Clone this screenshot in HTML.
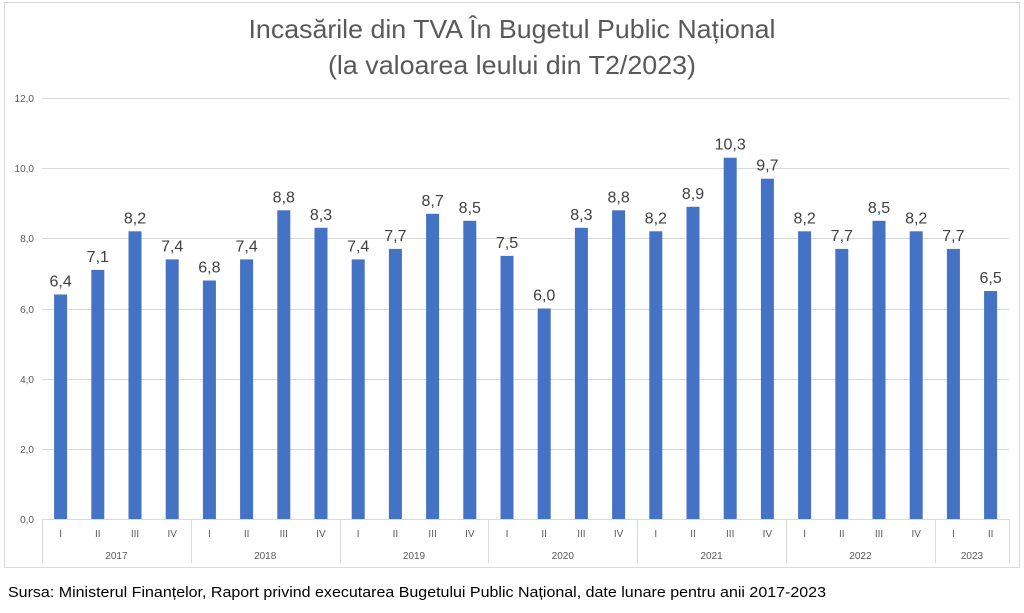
<!DOCTYPE html>
<html><head><meta charset="utf-8"><style>
body{margin:0;background:#fff;}
svg text{font-family:"Liberation Sans",sans-serif;}
</style></head><body>
<svg width="1024" height="608" viewBox="0 0 1024 608" xmlns="http://www.w3.org/2000/svg">
<rect x="4.5" y="2.5" width="1015" height="565" fill="#fff" stroke="#d9d9d9"/>
<text x="512" y="38" text-anchor="middle" font-size="26" fill="#595959" textLength="527" lengthAdjust="spacingAndGlyphs">Incasările din TVA În Bugetul Public Național</text>
<text x="512" y="74" text-anchor="middle" font-size="26" fill="#595959" textLength="368" lengthAdjust="spacingAndGlyphs">(la valoarea leului din T2/2023)</text>
<g stroke="#d9d9d9" stroke-width="1">
<line x1="42" x2="1009" y1="98.5" y2="98.5"/>
<line x1="42" x2="1009" y1="168.5" y2="168.5"/>
<line x1="42" x2="1009" y1="238.5" y2="238.5"/>
<line x1="42" x2="1009" y1="309.5" y2="309.5"/>
<line x1="42" x2="1009" y1="379.5" y2="379.5"/>
<line x1="42" x2="1009" y1="449.5" y2="449.5"/>
<line x1="42" x2="1009" y1="519.5" y2="519.5"/>
<line x1="42.5" x2="42.5" y1="519" y2="563"/>
<line x1="191.5" x2="191.5" y1="519" y2="563"/>
<line x1="340.5" x2="340.5" y1="519" y2="563"/>
<line x1="488.5" x2="488.5" y1="519" y2="563"/>
<line x1="637.5" x2="637.5" y1="519" y2="563"/>
<line x1="786.5" x2="786.5" y1="519" y2="563"/>
<line x1="935.5" x2="935.5" y1="519" y2="563"/>
<line x1="1009.5" x2="1009.5" y1="519" y2="563"/>
</g>
<g font-size="10" fill="#595959" text-anchor="end">
<text x="34" y="102">12,0</text><text x="34" y="172">10,0</text><text x="34" y="242">8,0</text>
<text x="34" y="313">6,0</text><text x="34" y="383">4,0</text><text x="34" y="453">2,0</text><text x="34" y="523">0,0</text>
</g>
<g fill="#4472c4">
<rect x="54.1" y="294.5" width="13" height="224.5"/>
<rect x="91.3" y="269.9" width="13" height="249.1"/>
<rect x="128.5" y="231.3" width="13" height="287.7"/>
<rect x="165.7" y="259.4" width="13" height="259.6"/>
<rect x="202.9" y="280.5" width="13" height="238.5"/>
<rect x="240.1" y="259.4" width="13" height="259.6"/>
<rect x="277.3" y="210.3" width="13" height="308.7"/>
<rect x="314.5" y="227.8" width="13" height="291.2"/>
<rect x="351.7" y="259.4" width="13" height="259.6"/>
<rect x="388.9" y="248.9" width="13" height="270.1"/>
<rect x="426.1" y="213.8" width="13" height="305.2"/>
<rect x="463.3" y="220.8" width="13" height="298.2"/>
<rect x="500.5" y="255.9" width="13" height="263.1"/>
<rect x="537.7" y="308.5" width="13" height="210.5"/>
<rect x="574.9" y="227.8" width="13" height="291.2"/>
<rect x="612.1" y="210.3" width="13" height="308.7"/>
<rect x="649.3" y="231.3" width="13" height="287.7"/>
<rect x="686.5" y="206.8" width="13" height="312.2"/>
<rect x="723.7" y="157.7" width="13" height="361.3"/>
<rect x="760.9" y="178.7" width="13" height="340.3"/>
<rect x="798.1" y="231.3" width="13" height="287.7"/>
<rect x="835.3" y="248.9" width="13" height="270.1"/>
<rect x="872.5" y="220.8" width="13" height="298.2"/>
<rect x="909.7" y="231.3" width="13" height="287.7"/>
<rect x="946.9" y="248.9" width="13" height="270.1"/>
<rect x="984.1" y="291.0" width="13" height="228.0"/>
</g>
<g font-size="16" fill="#404040" text-anchor="middle">
<text x="60.6" y="286.5">6,4</text>
<text x="97.8" y="261.9">7,1</text>
<text x="135" y="223.3">8,2</text>
<text x="172.2" y="251.4">7,4</text>
<text x="209.4" y="272.5">6,8</text>
<text x="246.6" y="251.4">7,4</text>
<text x="283.8" y="202.3">8,8</text>
<text x="321" y="219.8">8,3</text>
<text x="358.2" y="251.4">7,4</text>
<text x="395.4" y="240.9">7,7</text>
<text x="432.6" y="205.8">8,7</text>
<text x="469.8" y="212.8">8,5</text>
<text x="507" y="247.9">7,5</text>
<text x="544.2" y="300.5">6,0</text>
<text x="581.4" y="219.8">8,3</text>
<text x="618.6" y="202.3">8,8</text>
<text x="655.8" y="223.3">8,2</text>
<text x="693" y="198.8">8,9</text>
<text x="730.2" y="149.7">10,3</text>
<text x="767.4" y="170.7">9,7</text>
<text x="804.6" y="223.3">8,2</text>
<text x="841.8" y="240.9">7,7</text>
<text x="879" y="212.8">8,5</text>
<text x="916.2" y="223.3">8,2</text>
<text x="953.4" y="240.9">7,7</text>
<text x="990.6" y="283">6,5</text>
</g>
<g font-size="10" fill="#595959" text-anchor="middle">
<text x="60.6" y="537">I</text><text x="97.8" y="537">II</text><text x="135" y="537">III</text><text x="172.2" y="537">IV</text>
<text x="209.4" y="537">I</text><text x="246.6" y="537">II</text><text x="283.8" y="537">III</text><text x="321" y="537">IV</text>
<text x="358.2" y="537">I</text><text x="395.4" y="537">II</text><text x="432.6" y="537">III</text><text x="469.8" y="537">IV</text>
<text x="507" y="537">I</text><text x="544.2" y="537">II</text><text x="581.4" y="537">III</text><text x="618.6" y="537">IV</text>
<text x="655.8" y="537">I</text><text x="693" y="537">II</text><text x="730.2" y="537">III</text><text x="767.4" y="537">IV</text>
<text x="804.6" y="537">I</text><text x="841.8" y="537">II</text><text x="879" y="537">III</text><text x="916.2" y="537">IV</text>
<text x="953.4" y="537">I</text><text x="990.6" y="537">II</text>
<text x="116.4" y="559">2017</text><text x="265.2" y="559">2018</text><text x="414" y="559">2019</text>
<text x="562.8" y="559">2020</text><text x="711.6" y="559">2021</text><text x="860.4" y="559">2022</text><text x="972" y="559">2023</text>
</g>
<text x="8" y="597" font-size="15" fill="#000" textLength="818" lengthAdjust="spacingAndGlyphs">Sursa: Ministerul Finanțelor, Raport privind executarea Bugetului Public Național, date lunare pentru anii 2017-2023</text>
</svg>
</body></html>
